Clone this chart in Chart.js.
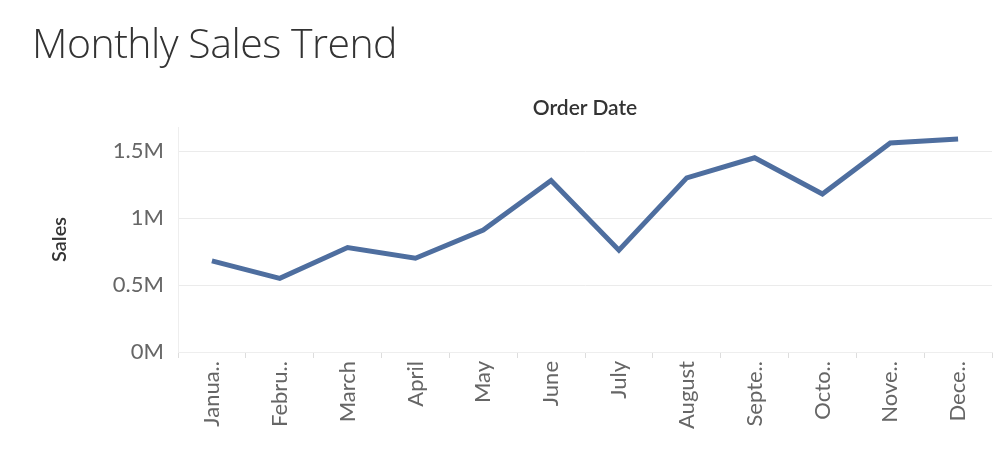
<!DOCTYPE html>
<html><head><meta charset="utf-8">
<script src="https://cdn.jsdelivr.net/npm/chart.js@4"></script>
<style>
body{margin:0;background:#fff;font-family:Lato,"Open Sans",sans-serif;}
#wrap{position:relative;width:1004px;height:464px;}
#t{position:absolute;left:32px;top:14px;font-size:41px;font-weight:300;color:#333;font-family:"Open Sans",Lato,sans-serif;letter-spacing:-0.5px;}
#o{position:absolute;left:585px;top:94px;transform:translateX(-50%);font-size:21px;font-weight:600;color:#333;}
canvas{position:absolute;left:0;top:0;}
</style></head><body>
<div id="wrap"><canvas id="c" width="1004" height="464"></canvas>
<div id="t">Monthly Sales Trend</div><div id="o">Order Date</div></div>
<script>
const categories=["January","February","March","April","May","June","July","August","September","October","November","December"];
const tickLabels=["Janua..","Febru..","March","April","May","June","July","August","Septe..","Octo..","Nove..","Dece.."];
const sales=[680000,550000,780000,700000,910000,1280000,760000,1300000,1450000,1180000,1560000,1590000];
const yTicks=[0,500000,1000000,1500000];
new Chart(document.getElementById('c'),{
type:'line',
data:{labels:categories,datasets:[{data:sales,borderColor:'#4e6e9f',borderWidth:5,pointRadius:0,tension:0,fill:false}]},
options:{responsive:false,animation:false,
layout:{padding:{top:127,left:44,right:12,bottom:0}},
plugins:{legend:{display:false},tooltip:{enabled:false}},
scales:{
x:{offset:true,grid:{drawOnChartArea:false,tickLength:6,color:'#ddd',offset:true},border:{color:'#eee'},
 ticks:{maxRotation:90,minRotation:90,autoSkip:false,color:'#666',font:{size:22,family:'Lato'},callback:(v,i)=>tickLabels[i]},
 afterFit:s=>{s.height=112;}},
y:{min:0,max:1680000,afterBuildTicks:s=>{s.ticks=yTicks.map(v=>({value:v}));},
 grid:{color:ctx=>ctx.tick&&ctx.tick.value===0?'rgba(0,0,0,0)':'#ebebeb',drawTicks:false},border:{color:'#eee'},
 ticks:{color:'#666',padding:14,font:{size:22,family:'Lato'},callback:v=>(v/1e6)+'M'},
 title:{display:true,text:'Sales',color:'#333',font:{size:20,weight:'600',family:'Lato'}},
 afterFit:s=>{s.width=134;}}
}}});
</script></body></html>
